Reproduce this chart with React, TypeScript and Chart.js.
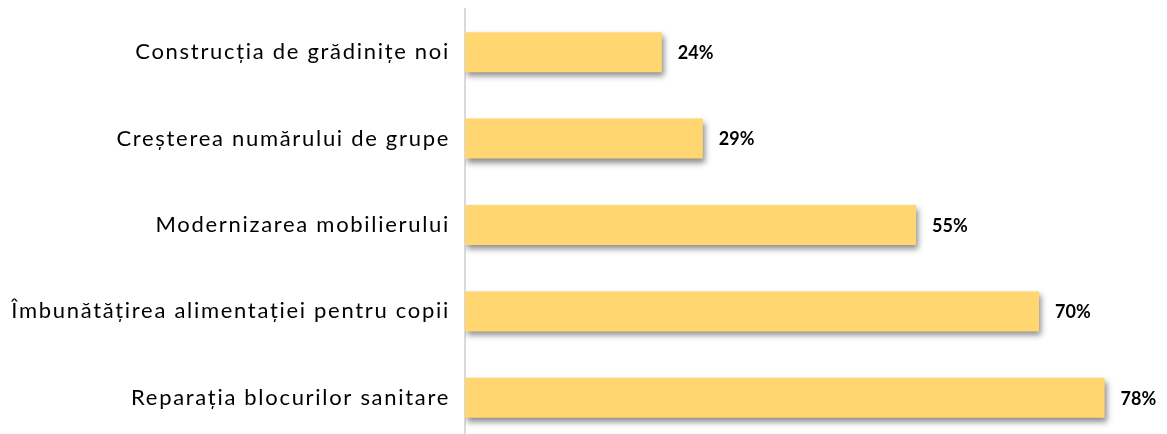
import React, { useEffect, useRef } from "react";
import { Chart, registerables } from "chart.js";

Chart.register(...registerables);

const categories = [
  "Construcția de grădinițe noi",
  "Creșterea numărului de grupe",
  "Modernizarea mobilierului",
  "Îmbunătățirea alimentației pentru copii",
  "Reparația blocurilor sanitare",
];
const values = [24, 29, 55, 70, 78];
const valueLabels = ["24%", "29%", "55%", "70%", "78%"];

const shadowPlugin = {
  id: "barShadow",
  beforeDraw(chart: any) {
    (chart.ctx as any).letterSpacing = "1.7px";
  },
  beforeDatasetsDraw(chart: any) {
    const ctx = chart.ctx;
    (ctx as any).letterSpacing = "0px";
    ctx.save();
    ctx.shadowColor = "rgba(0,0,0,0.45)";
    ctx.shadowBlur = 6;
    ctx.shadowOffsetX = 2;
    ctx.shadowOffsetY = 4;
  },
  afterDatasetsDraw(chart: any) {
    const ctx = chart.ctx;
    ctx.restore();
    const meta = chart.getDatasetMeta(0);
    ctx.save();
    ctx.font = "bold 18px Lato";
    ctx.fillStyle = "#000000";
    ctx.textAlign = "left";
    ctx.textBaseline = "middle";
    meta.data.forEach((bar: any, i: number) => {
      ctx.fillText(valueLabels[i], bar.x + 16, bar.y + 1);
    });
    ctx.restore();
  },
  afterDraw(chart: any) {
    (chart.ctx as any).letterSpacing = "0px";
  },
};

export default function App() {
  const ref = useRef<HTMLCanvasElement>(null);
  useEffect(() => {
    if (!ref.current) return;
    const chart = new Chart(ref.current, {
      type: "bar",
      data: {
        labels: categories,
        datasets: [
          {
            data: values,
            backgroundColor: "#FFD670",
            borderWidth: 0,
            categoryPercentage: 0.463,
            barPercentage: 1,
          },
        ],
      },
      options: {
        indexAxis: "y",
        animation: false,
        responsive: false,
        devicePixelRatio: 1,
        layout: { padding: { top: 9, bottom: 1, left: 0, right: 5 } },
        plugins: { legend: { display: false }, tooltip: { enabled: false } },
        scales: {
          x: {
            display: false,
            min: 0,
            max: 85,
          },
          y: {
            afterFit(scale: any) {
              scale.width = 465;
              scale.paddingTop = 0;
              scale.paddingBottom = 0;
            },
            grid: { display: false, drawTicks: false },
            border: { display: true, color: "#D9D9D9", width: 2 },
            ticks: {
              color: "#000000",
              padding: 15,
              font: { family: "Lato", size: 22 },
            },
          },
        },
      },
      plugins: [shadowPlugin],
    });
    return () => chart.destroy();
  }, []);
  return (
    <div style={{ position: "absolute", left: 0, top: 0, width: 1167, height: 434, overflow: "hidden", background: "#fff" }}>
      <canvas ref={ref} width={1167} height={442} style={{ display: "block" }} />
    </div>
  );
}
